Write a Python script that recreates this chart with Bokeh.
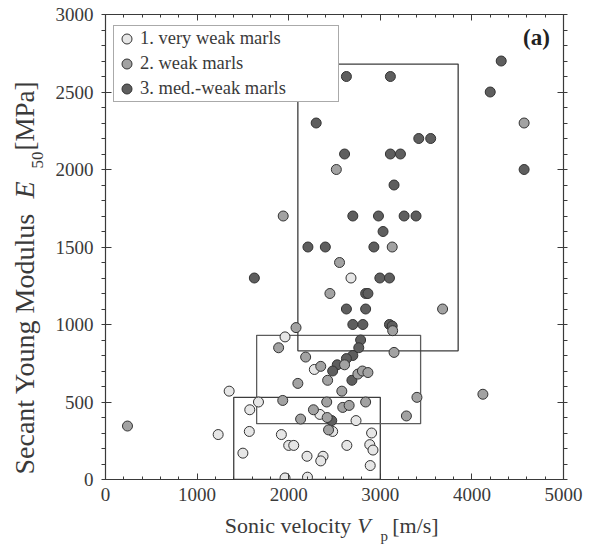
import math
from bokeh.plotting import figure
from bokeh.models import (Range1d, LinearAxis, FixedTicker, Label, Legend, LegendItem)
from bokeh.layouts import row, column
from bokeh.core.properties import value
from bokeh.embed import file_html
from bokeh.resources import INLINE

# ---------------- data ----------------
vw_x = [2680, 1960, 2280, 1350, 1670, 1575, 2340, 2735, 1230, 1570, 1920, 2000, 2055,
        2635, 2905, 2885, 2920, 1500, 2200, 2375, 2350, 2890, 1960, 2205, 2480]
vw_y = [1300, 920, 710, 570, 500, 450, 420, 380, 290, 310, 290, 220, 220,
        220, 300, 225, 190, 170, 150, 150, 120, 90, 10, 15, 310]

w_x = [4570, 2520, 1940, 3130, 2555, 2450, 3680, 3135, 2080, 1890, 2185, 3150, 2610,
       2350, 2755, 2805, 2865, 2425, 2100, 2580, 3400, 1935, 2415, 2840, 2270, 2420,
       2130, 3285, 2590, 2660, 240, 4120, 2435]
w_y = [2300, 2000, 1700, 1500, 1400, 1200, 1100, 960, 980, 850, 790, 820, 740,
       730, 680, 700, 690, 640, 620, 570, 530, 510, 500, 500, 450, 400,
       390, 410, 465, 478, 345, 550, 320]

mw_x = [4320, 2630, 3110, 4200, 2300, 3420, 3550, 2610, 3110, 3220, 4570, 3150, 2700,
        2980, 3260, 3390, 3030, 2210, 2400, 2930, 1625, 2995, 3100, 2840, 2865, 2630,
        2840, 2700, 2810, 3100, 3130, 2785, 2765, 2700, 2630, 2530, 2480, 2690, 2470]
mw_y = [2700, 2600, 2600, 2500, 2300, 2200, 2200, 2100, 2100, 2100, 2000, 1900, 1700,
        1700, 1700, 1700, 1600, 1500, 1500, 1500, 1300, 1300, 1300, 1200, 1200, 1100,
        1100, 1000, 1000, 1000, 990, 900, 850, 800, 780, 740, 700, 640, 380]

# bounding boxes per class: very weak, weak, med.-weak
box_left = [1400, 1650, 2100]
box_right = [3000, 3440, 3850]
box_bottom = [0, 360, 830]
box_top = [530, 930, 2680]

series_labels = ["1. very weak marls", "2. weak marls", "3. med.-weak marls"]
x_ticks = [0, 1000, 2000, 3000, 4000, 5000]
y_ticks = [0, 500, 1000, 1500, 2000, 2500, 3000]

# ---------------- styles ----------------
FONT = "Liberation Serif"
TXT = "#3a3a3a"
AX = "#3a3a3a"
fills = ["#e6e6e6", "#a2a2a2", "#5e5e5e"]
box_cols = ["#3c3c3c", "#5c5c5c", "#3c3c3c"]

W, H = 596, 547
YL_W = 50          # width of the y-label strip
XL_H = 35          # height of the x-label strip

p = figure(width=W - YL_W, height=H - XL_H, output_backend="svg", toolbar_location=None,
           x_range=Range1d(0, 5000), y_range=Range1d(0, 3000),
           min_border_left=55, min_border_right=33, min_border_top=14, min_border_bottom=33,
           background_fill_color="white", border_fill_color="white",
           x_axis_type=None, y_axis_type=None, frame_align=False)
p.outline_line_color = None
p.xgrid.visible = False
p.ygrid.visible = False

x_minor = list(range(0, 5001, 200))
y_minor = list(range(0, 3001, 100))


def style_axis(ax, labels=True, minor_out=False):
    ax.axis_line_color = AX
    ax.axis_line_width = 1.2
    ax.major_tick_line_color = AX
    ax.minor_tick_line_color = AX
    ax.major_tick_in = 6
    ax.major_tick_out = 0
    if minor_out:
        ax.minor_tick_in = 0
        ax.minor_tick_out = 4
    else:
        ax.minor_tick_in = 3
        ax.minor_tick_out = 0
    ax.major_label_text_font = FONT
    if labels:
        ax.major_label_text_color = TXT
        ax.major_label_text_font_size = "19px"
        ax.major_label_standoff = 8
    else:
        ax.major_label_text_color = None
        ax.major_label_text_font_size = "1px"
        ax.major_label_standoff = 0


bottom = LinearAxis(ticker=FixedTicker(ticks=x_ticks, minor_ticks=x_minor))
top = LinearAxis(ticker=FixedTicker(ticks=x_ticks, minor_ticks=x_minor))
left = LinearAxis(ticker=FixedTicker(ticks=y_ticks, minor_ticks=y_minor))
right = LinearAxis(ticker=FixedTicker(ticks=y_ticks, minor_ticks=y_minor))
style_axis(bottom)
style_axis(top, labels=False)
style_axis(left, minor_out=True)
style_axis(right, labels=False, minor_out=True)
p.add_layout(bottom, "below")
p.add_layout(top, "above")
p.add_layout(left, "left")
p.add_layout(right, "right")

# boxes
for i in range(3):
    p.quad(left=[box_left[i]], right=[box_right[i]], bottom=[box_bottom[i]], top=[box_top[i]],
           fill_color=None, line_color=box_cols[i], line_width=1.3)

# points
r_mw = p.scatter(mw_x, mw_y, size=10, fill_color=fills[2], line_color="#333333", line_width=1)
r_vw = p.scatter(vw_x, vw_y, size=10, fill_color=fills[0], line_color="#333333", line_width=1)
r_w = p.scatter(w_x, w_y, size=10, fill_color=fills[1], line_color="#333333", line_width=1)

legend = Legend(items=[LegendItem(label=series_labels[0], renderers=[r_vw]),
                       LegendItem(label=series_labels[1], renderers=[r_w]),
                       LegendItem(label=series_labels[2], renderers=[r_mw])],
                location=(8, 377))
legend.margin = 0
legend.padding = 0
legend.spacing = 0
legend.glyph_width = 25
legend.glyph_height = 25
legend.label_height = 25
legend.label_width = 198
legend.label_standoff = 1
legend.label_text_font = FONT
legend.label_text_font_size = "18.5px"
legend.label_text_color = TXT
legend.border_line_color = "#555555"
legend.border_line_width = 1.5
legend.background_fill_color = "white"
legend.background_fill_alpha = 1
p.add_layout(legend, "center")

# panel tag
p.add_layout(Label(x=444.3, y=442.0, x_units="screen", y_units="screen", text="(a)",
                   text_font=FONT, text_font_size="23px", text_font_style="bold",
                   text_color="#222222", text_align="right", text_baseline="alphabetic"))


def strip(w, h):
    f = figure(width=w, height=h, output_backend="svg", toolbar_location=None,
               x_range=Range1d(0, w), y_range=Range1d(0, h),
               min_border=0, x_axis_type=None, y_axis_type=None,
               background_fill_color="white", border_fill_color="white",
               frame_align=False)
    f.outline_line_color = None
    f.xgrid.visible = False
    f.ygrid.visible = False
    return f


def put(f, text, x, y, size, style="normal", angle=0.0):
    f.text(x=[x], y=[y], text=[text], angle=angle, text_font=value(FONT),
           text_font_size=size, text_font_style=style, text_color=TXT,
           text_align="left", text_baseline="alphabetic")


# y-axis label strip (rotated text pieces); coordinates are strip pixels
ylab = strip(YL_W, H)
A = math.pi / 2
put(ylab, "Secant Young Modulus", 24, 73, "28px", angle=A)
put(ylab, "E", 24, 349, "28px", "italic", angle=A)
put(ylab, "50", 37, 379, "17px", angle=A)
put(ylab, "[MPa]", 24, 397, "27px", angle=A)

# x-axis label strip
xlab = strip(W - YL_W, XL_H)
put(xlab, "Sonic velocity", 174.3, 21.6, "22px")
put(xlab, "V", 306.7, 21.6, "22px", "italic")
put(xlab, "p", 330.0, 12.0, "15px")
put(xlab, "[m/s]", 341.7, 21.6, "22px")

layout = row(ylab, column(p, xlab, spacing=0), spacing=0)

open("out.html", "w").write(file_html(layout, INLINE))
